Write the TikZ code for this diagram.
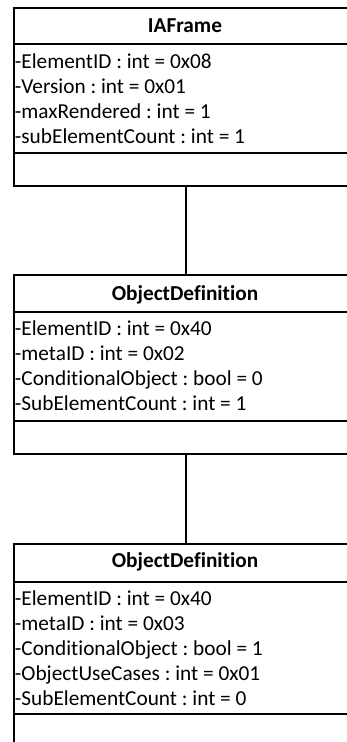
\documentclass[tikz,border=0pt]{standalone}
\usepackage{fontspec}
\setmainfont{Carlito}[RawFeature={-liga}]
\frenchspacing
\begin{document}
\begin{tikzpicture}[x=1pt,y=-1pt,line width=1.8pt]
\tikzset{
  box/.style={draw, rectangle, minimum width=344pt, inner sep=0pt, anchor=north west},
  attr/.style={anchor=base west, inner sep=0pt, font=\fontsize{21.3}{25}\selectfont\frenchspacing},
  ttl/.style={anchor=base, inner sep=0pt, font=\fontsize{21.3}{25}\selectfont\bfseries},
  conn/.style={draw, line width=1.8pt}
}
\useasboundingbox (0,0) rectangle (347,742);
% boxes
\node[box, minimum height=178pt] (b1) at (13,7) {};
\node[box, minimum height=179pt] (b2) at (13,274) {};
\node[box, minimum height=220pt] (b3) at (13,543) {};
% separators
\draw (b1.west |- 0,44) -- (b1.east |- 0,44);
\draw (b1.west |- 0,153) -- (b1.east |- 0,153);
\draw (b2.west |- 0,312) -- (b2.east |- 0,312);
\draw (b2.west |- 0,421) -- (b2.east |- 0,421);
\draw (b3.west |- 0,582) -- (b3.east |- 0,582);
\draw (b3.west |- 0,714) -- (b3.east |- 0,714);
% connectors
\draw[conn] (b1.south) -- (b2.north);
\draw[conn] (b2.south) -- (b3.north);
% box 1
\node[ttl] (t1) at (185,32) {IAFrame};
\node[attr] (a11) at (14,68) {-ElementID : int = 0x08};
\node[attr] (a12) at (14,93) {-Version : int = 0x01};
\node[attr] (a13) at (14,118) {-maxRendered : int = 1};
\node[attr] (a14) at (14,143) {-subElementCount : int = 1};
% box 2
\node[ttl] (t2) at (185,300) {ObjectDefinition};
\node[attr] (a21) at (14,335) {-ElementID : int = 0x40};
\node[attr] (a22) at (14,360) {-metaID : int = 0x02};
\node[attr] (a23) at (14,385) {-ConditionalObject : bool = 0};
\node[attr] (a24) at (14,410) {-SubElementCount : int = 1};
% box 3
\node[ttl] (t3) at (185,567) {ObjectDefinition};
\node[attr] (a31) at (14,605) {-ElementID : int = 0x40};
\node[attr] (a32) at (14,630) {-metaID : int = 0x03};
\node[attr] (a33) at (14,655) {-ConditionalObject : bool = 1};
\node[attr] (a34) at (14,680) {-ObjectUseCases : int = 0x01};
\node[attr] (a35) at (14,705) {-SubElementCount : int = 0};
\end{tikzpicture}
\end{document}
